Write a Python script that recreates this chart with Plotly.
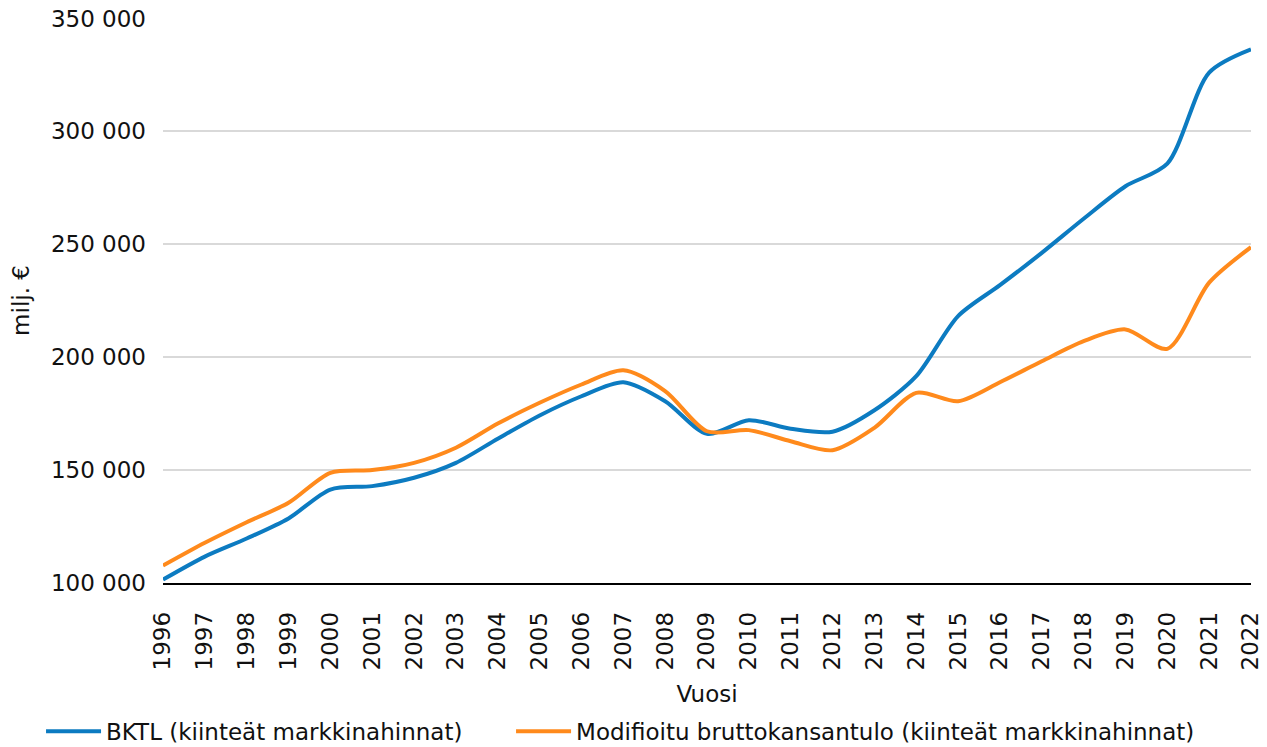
import plotly.graph_objects as go

years = list(range(1996, 2023))
bktl = [101500, 111700, 119700, 128600, 141400, 142900, 146600, 153200, 163900,
        174200, 182700, 188900, 180500, 166100, 172100, 168300, 167000, 176500,
        191600, 218200, 231900, 246200, 261300, 275700, 285700, 326000, 336300]
mbkt = [107700, 117800, 126900, 135500, 148800, 150000, 153200, 159900, 170600,
        179800, 187900, 194200, 185000, 167200, 167700, 162800, 158800, 168700,
        184200, 180500, 188900, 198200, 207100, 212300, 203700, 233000, 248700]
series_names = ["BKTL (kiinteät markkinahinnat)",
                "Modifioitu bruttokansantulo (kiinteät markkinahinnat)"]
y_tickvals = [100000, 150000, 200000, 250000, 300000, 350000]
y_ticktext = ["100 000", "150 000", "200 000", "250 000", "300 000", "350 000"]

fig = go.Figure()
fig.add_trace(go.Scatter(x=years, y=bktl, mode="lines", name=series_names[0],
                         legend="legend",
                         line=dict(color="#0C7BC1", width=4, shape="spline", smoothing=0.8)))
fig.add_trace(go.Scatter(x=years, y=mbkt, mode="lines", name=series_names[1],
                         legend="legend2",
                         line=dict(color="#FF8A1C", width=4, shape="spline", smoothing=0.8)))

tick_font = dict(family="DejaVu Sans", size=23, color="#111111")
label_font = dict(family="DejaVu Sans", size=23, color="#111111")

leg_common = dict(orientation="h", xref="paper", yref="container",
                  y=0.0212, xanchor="left", yanchor="middle",
                  font=label_font, itemwidth=55, bgcolor="rgba(0,0,0,0)")

fig.update_layout(
    width=1259, height=739,
    margin=dict(l=155, r=16, t=10, b=164),
    paper_bgcolor="white", plot_bgcolor="white",
    showlegend=True,
    legend=dict(x=-0.1121, **leg_common),
    legend2=dict(x=0.3199, **leg_common),
    xaxis=dict(range=[1996, 2022], tickvals=years, ticktext=[str(y) for y in years],
               tickangle=-90, tickfont=tick_font, showgrid=False,
               showline=True, linecolor="#000000", linewidth=1.5,
               ticks="", ticklabelstandoff=18, automargin=False,
               title=dict(text="Vuosi", font=label_font, standoff=16),
               zeroline=False),
    yaxis=dict(range=[100000, 350200], tickvals=y_tickvals, ticktext=y_ticktext,
               tickfont=tick_font, showgrid=True, gridcolor="#D9D9D9", gridwidth=1.5,
               showline=False, ticks="", ticklabelstandoff=16, automargin=False,
               ticklabeloverflow="allow",
               title=dict(text="milj. €", font=label_font, standoff=22),
               zeroline=False),
)

fig.write_html("out.html")
